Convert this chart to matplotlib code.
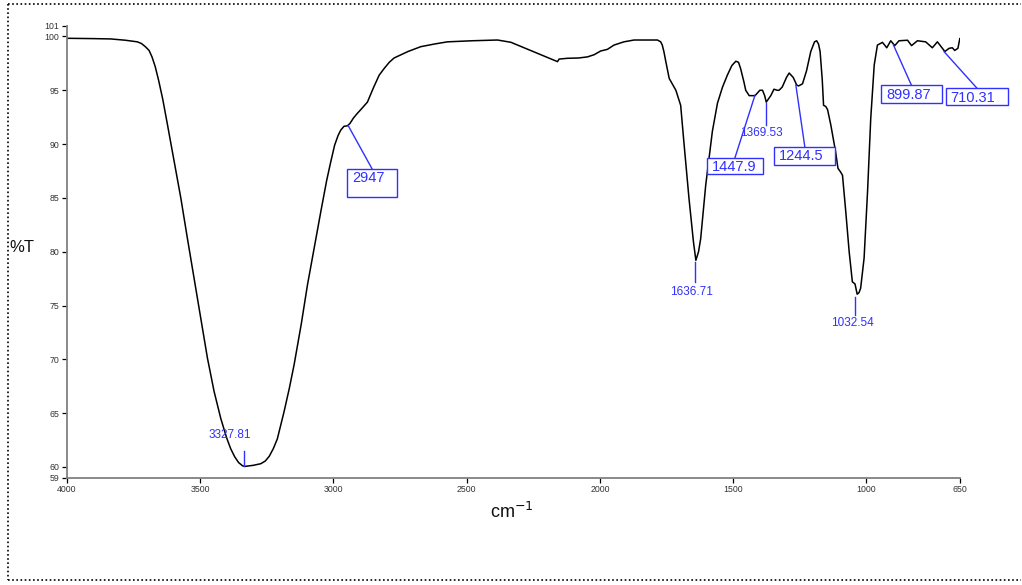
import matplotlib
matplotlib.use("Agg")
import matplotlib.pyplot as plt
from matplotlib.lines import Line2D
from matplotlib.patches import Rectangle

plt.rcParams['font.family'] = ['Liberation Sans', 'DejaVu Sans']

# ---- spectrum (wavenumber cm-1, %T) ----
wavenumber = [4000, 3900, 3835, 3780, 3735, 3720, 3705, 3691, 3680, 3668,
              3655, 3640, 3622, 3597, 3572, 3547, 3522, 3497, 3472, 3447,
              3422, 3400, 3385, 3370, 3355, 3340, 3332, 3300, 3272, 3255,
              3240, 3225, 3210, 3185, 3165, 3147, 3120, 3097, 3070, 3047,
              3025, 3010, 2995, 2982, 2972, 2960, 2947, 2938, 2925, 2910,
              2897, 2872, 2850, 2828, 2810, 2790, 2772, 2720, 2672, 2620,
              2572, 2480, 2384, 2334, 2250, 2159, 2153, 2122, 2080, 2047,
              2022, 1997, 1972, 1947, 1910, 1872, 1784, 1772, 1766, 1760,
              1753, 1740, 1715, 1697, 1685, 1666, 1649, 1640, 1630, 1622,
              1603, 1578, 1559, 1540, 1522, 1505, 1490, 1480, 1472, 1460,
              1453, 1440, 1418, 1400, 1390, 1382, 1376, 1365, 1359, 1347,
              1335, 1328, 1316, 1300, 1290, 1275, 1262, 1255, 1240, 1225,
              1209, 1195, 1187, 1180, 1174, 1166, 1161, 1153, 1146, 1134,
              1116, 1107, 1097, 1090, 1078, 1065, 1053, 1043, 1035, 1028,
              1022, 1009, 996, 984, 971, 959, 940, 924, 909, 894,
              878, 846, 831, 809, 778, 753, 734, 706, 690, 678,
              669, 657, 650]
transmittance = [99.83, 99.8, 99.77, 99.65, 99.5, 99.35, 99.05, 98.7, 98.1, 97.2,
                 95.9, 94.2, 91.8, 88.4, 85.0, 81.2, 77.5, 73.8, 70.1, 67.0,
                 64.5, 62.7, 61.7, 60.95, 60.4, 60.1, 60.05, 60.15, 60.3, 60.55,
                 61.0, 61.7, 62.6, 65.1, 67.3, 69.5, 73.3, 76.9, 80.6, 83.7,
                 86.6, 88.3, 89.9, 90.8, 91.3, 91.65, 91.7, 91.9, 92.4, 92.85,
                 93.2, 93.9, 95.2, 96.4, 97.0, 97.6, 98.0, 98.6, 99.05, 99.3,
                 99.5, 99.6, 99.67, 99.46, 98.6, 97.66, 97.9, 97.97, 98.0, 98.1,
                 98.3, 98.65, 98.8, 99.2, 99.5, 99.67, 99.67, 99.5, 99.2, 98.6,
                 97.7, 96.1, 95.0, 93.6, 90.2, 85.0, 80.9, 79.2, 80.0, 81.2,
                 86.2, 91.2, 93.8, 95.3, 96.4, 97.3, 97.7, 97.6, 97.0, 95.8,
                 95.0, 94.5, 94.5, 95.0, 95.0, 94.5, 93.9, 94.3, 94.5, 95.1,
                 95.0, 95.0, 95.3, 96.2, 96.6, 96.2, 95.5, 95.4, 95.6, 96.8,
                 98.6, 99.5, 99.6, 99.3, 98.6, 96.0, 93.6, 93.5, 93.2, 91.8,
                 89.3, 87.75, 87.4, 87.1, 83.8, 80.0, 77.2, 77.0, 76.05, 76.2,
                 76.6, 79.4, 85.6, 92.4, 97.35, 99.2, 99.45, 98.95, 99.6, 99.15,
                 99.6, 99.65, 99.15, 99.6, 99.5, 98.95, 99.5, 98.6, 98.9, 98.95,
                 98.7, 98.9, 99.8]

# ---- tick labels ----
x_ticks = [4000, 3500, 3000, 2500, 2000, 1500, 1000, 650]
y_ticks = [59, 60, 65, 70, 75, 80, 85, 90, 95, 100, 101]

# ---- plain peak labels (short vertical leader + text) ----
plain_labels = ['3327.81', '1636.71', '1369.53', '1032.54']
plain_x = [3334, 1643, 1378, 1043]
plain_line_from = [60.08, 79.0, 93.8, 75.82]
plain_line_to = [61.47, 77.18, 91.78, 74.12]
plain_text_x = [3387, 1656, 1393, 1053]
plain_text_y = [62.97, 76.28, 91.06, 73.35]

# ---- boxed peak labels ----
boxed_labels = ['2947', '1447.9', '1244.5', '899.87', '710.31']
boxed_anchor_x = [2944, 1418, 1265, 899, 709]
boxed_anchor_y = [91.71, 94.56, 95.49, 99.21, 98.59]
box_left = [2947.5, 1599.4, 1345.8, 945.6, 702.9]
box_right = [2759.9, 1387.1, 1117.0, 718.0, 468.1]
box_top = [87.66, 88.74, 89.76, 95.49, 95.19]
box_bottom = [85.11, 87.19, 88.06, 93.79, 93.63]
box_text_x = [2930, 1580.6, 1327, 927, 684]
box_text_y = [86.82, 87.9, 88.92, 94.56, 94.31]

BLUE = '#3030ff'

fig = plt.figure(figsize=(10.22, 5.85), dpi=100)
ax = fig.add_axes([66.7 / 1022, 1 - 477.7 / 585, (959.8 - 66.7) / 1022, (477.7 - 25.7) / 585])

ax.plot(wavenumber, transmittance, color='black', lw=1.1)
ax.set_xlim(4000, 650)
ax.set_ylim(59, 101)
ax.set_xticks(x_ticks)
ax.set_xticklabels([str(t) for t in x_ticks])
ax.set_yticks(y_ticks)
ax.set_yticklabels([str(t) for t in y_ticks])

for s in ['top', 'right']:
    ax.spines[s].set_visible(False)
for s in ['left', 'bottom']:
    ax.spines[s].set_color('#808080')
    ax.spines[s].set_linewidth(1.3)
ax.tick_params(axis='both', direction='out', length=3.5, width=0.9, color='black',
               labelsize=6.3, labelcolor='#333333', pad=2)

# plain labels
for lab, x, y0, y1, tx, ty in zip(plain_labels, plain_x, plain_line_from, plain_line_to,
                                  plain_text_x, plain_text_y):
    ax.plot([x, x], [y0, y1], color=BLUE, lw=1.0)
    ax.text(tx, ty, lab, color=BLUE, fontsize=8.5, ha='center', va='center')

# boxed labels
for lab, axx, axy, l, r, t, b, tx, ty in zip(boxed_labels, boxed_anchor_x, boxed_anchor_y,
                                             box_left, box_right, box_top, box_bottom,
                                             box_text_x, box_text_y):
    ax.add_patch(Rectangle((l, b), r - l, t - b, fill=True, fc='white', ec=BLUE, lw=1.0,
                           clip_on=False, zorder=3))
    ax.plot([axx, (l + r) / 2], [axy, t], color=BLUE, lw=1.0, clip_on=False, zorder=2)
    ax.text(tx, ty, lab, color=BLUE, fontsize=10.5, ha='left', va='center', zorder=4,
            clip_on=False)

# axis titles
fig.text(22 / 1022, 1 - 247 / 585, '%T', fontsize=12, ha='center', va='center', color='#111111')
fig.text(512 / 1022, 1 - 512 / 585, 'cm$^{-1}$', fontsize=13, ha='center', va='center', color='#111111')

# dotted frame
for xs, ys in [([8, 8], [4, 580]), ([8, 1021], [4, 4]), ([8, 1021], [580, 580])]:
    fig.add_artist(Line2D([v / 1022 for v in xs], [1 - v / 585 for v in ys],
                          transform=fig.transFigure, color='black', lw=1.2, ls=(0, (1, 1.5))))

fig.savefig('out.png', dpi=100)
